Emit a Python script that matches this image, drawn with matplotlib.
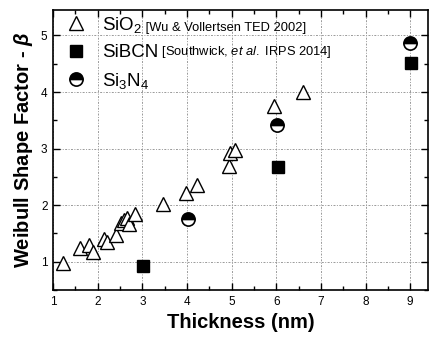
import matplotlib
matplotlib.use("Agg")
import matplotlib.pyplot as plt
from matplotlib.ticker import MultipleLocator
from matplotlib.lines import Line2D

plt.rcParams['font.family'] = ['Liberation Sans', 'DejaVu Sans']
plt.rcParams['mathtext.fontset'] = 'custom'
plt.rcParams['mathtext.rm'] = 'Liberation Sans'
plt.rcParams['mathtext.it'] = 'Liberation Sans:italic'
plt.rcParams['mathtext.bf'] = 'Liberation Sans:bold'
plt.rcParams['mathtext.bfit'] = 'Liberation Sans:italic:bold'
plt.rcParams['mathtext.default'] = 'regular'

# SiO2 (Wu & Vollertsen, TED 2002)
sio2_t = [1.23, 1.6, 1.81, 1.9, 2.15, 2.2, 2.41, 2.52, 2.6, 2.66, 2.7, 2.84,
          3.47, 3.98, 4.22, 4.95, 4.97, 5.07, 5.96, 6.6]
sio2_beta = [0.97, 1.24, 1.3, 1.18, 1.4, 1.35, 1.48, 1.68, 1.73, 1.77, 1.66, 1.85,
             2.02, 2.22, 2.35, 2.7, 2.92, 2.98, 3.75, 4.0]

# SiBCN (Southwick et al., IRPS 2014)
sibcn_t = [3.02, 6.05, 9.03]
sibcn_beta = [0.92, 2.67, 4.52]

# Si3N4
sin_t = [4.02, 6.02, 9.0]
sin_beta = [1.76, 3.42, 4.87]

x_ticks = [1, 2, 3, 4, 5, 6, 7, 8, 9]
y_ticks = [1, 2, 3, 4, 5]

fig = plt.figure(figsize=(4.30, 3.38), dpi=100)
ax = fig.add_axes([53 / 430, 48 / 338, 375 / 430, 280 / 338])

ax.plot(sio2_t, sio2_beta, ls='none', marker='^', ms=10, mfc='white',
        mec='black', mew=1.0, zorder=3)
ax.plot(sibcn_t, sibcn_beta, ls='none', marker='s', ms=9, mfc='black',
        mec='black', mew=1.0, zorder=3)
ax.plot(sin_t, sin_beta, ls='none', marker='o', ms=9.5, fillstyle='top',
        mfc='black', mfcalt='white', mec='black', mew=1.2, zorder=3)

ax.set_xlim(1, 9.4)
ax.set_ylim(0.5, 5.45)
ax.set_xticks(x_ticks)
ax.set_yticks(y_ticks)
ax.xaxis.set_minor_locator(MultipleLocator(0.5))
ax.yaxis.set_minor_locator(MultipleLocator(0.5))
ax.tick_params(which='both', direction='in', top=True, right=True,
               labelsize=8.5, width=1.0, pad=4)
ax.tick_params(which='major', length=5)
ax.tick_params(which='minor', length=3)
for s in ax.spines.values():
    s.set_linewidth(1.2)
ax.grid(True, which='major', color='#999999', ls=(0, (2, 1.5, 1, 1.5)), lw=0.7)
ax.set_axisbelow(True)

ax.set_xlabel('Thickness (nm)', fontsize=14.5, fontweight='bold', labelpad=4)
ax.set_ylabel(r'Weibull Shape Factor - $\mathbfit{\beta}$', fontsize=14.5,
              fontweight='bold', labelpad=4)

handles = [
    Line2D([], [], ls='none', marker='^', ms=10, mfc='white', mec='black', mew=1.0),
    Line2D([], [], ls='none', marker='s', ms=9, mfc='black', mec='black'),
    Line2D([], [], ls='none', marker='o', ms=9.5, fillstyle='top', mfc='black',
           mfcalt='white', mec='black', mew=1.2),
]
labels = ['SiO$_2$', 'SiBCN', 'Si$_3$N$_4$']
leg = ax.legend(handles, labels, loc='upper left', frameon=False, fontsize=13.5,
                handlelength=1.2, handletextpad=0.75, labelspacing=0.5,
                borderaxespad=0.0, borderpad=0.25, bbox_to_anchor=(0.02, 1.0))

refs = [' [Wu & Vollertsen TED 2002]', r' [Southwick, $\mathit{et\ al.}$ IRPS 2014]']
for txt, ref in zip(leg.get_texts()[:2], refs):
    ax.annotate(ref, xy=(1, 0), xycoords=txt, fontsize=9.3, va='bottom',
                ha='left', xytext=(0, 0.5), textcoords='offset points', zorder=10)

fig.savefig('out.png', dpi=100)
